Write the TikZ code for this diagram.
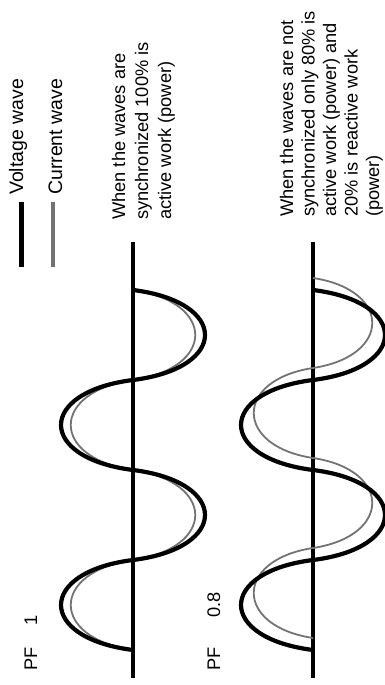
\documentclass[tikz,border=0pt]{standalone}
\usepackage{fontspec}
\setmainfont{Liberation Sans}
% half-wave lobes: #1 = base line, #2 = start, #3 = control height
\newcommand{\wavepath}[3]{(#2,#1) \foreach \k [evaluate=\k as \s using {1-2*mod(\k,2)}] in {0,...,3} { .. controls ({#2+90*\k+12},{#1+#3*\s}) and ({#2+90*\k+78},{#1+#3*\s}) .. ({#2+90*\k+90},#1) }}
\begin{document}
\begin{tikzpicture}[x=1pt, y=1pt, font=\fontsize{18.25}{23}\selectfont,
  voltage/.style={line width=4.2pt, black},
  current/.style={line width=1.8pt, black!55},
  axisline/.style={line width=3.8pt, black},
  note/.style={align=left, anchor=base west, inner sep=0pt}]
  \useasboundingbox (0,0) rectangle (385,685);
  \begin{scope}[shift={(385,0)}, rotate=90, transform shape]
    % legend
    \draw[voltage] (418,363.5) -- (483,363.5);
    \draw[current, line width=3.5pt] (418,332) -- (483,332);
    \node[note, font=\fontsize{19.5}{23}\selectfont] (volt) at (490,362) {Voltage wave};
    \node[note, font=\fontsize{19.5}{23}\selectfont] (curr) at (490,323) {Current wave};
    % PF 1
    \draw[axisline] (7,252) -- (443,252);
    \draw[current] \wavepath{252}{35}{83};
    \draw[voltage] \wavepath{252}{35}{96};
    \node[note] (pfone) at (14,348) {PF\hspace{22pt}1};
    \node[note] (syncnote) at (465,214) {When the waves are\\synchronized 100\% is\\active work (power)};
    % PF 0.8
    \draw[axisline] (7,72) -- (443,72);
    \draw[current] \wavepath{72}{47}{79};
    \draw[voltage] \wavepath{72}{35}{96};
    \node[note] (pftwo) at (14,165) {PF\hspace{30pt}0.8};
    \node[note, font=\fontsize{18.25}{21.5}\selectfont] (notsyncnote) at (468,6) {When the waves are not\\synchronized only 80\% is\\active work (power) and\\20\% is reactive work\\(power)};
  \end{scope}
\end{tikzpicture}
\end{document}
